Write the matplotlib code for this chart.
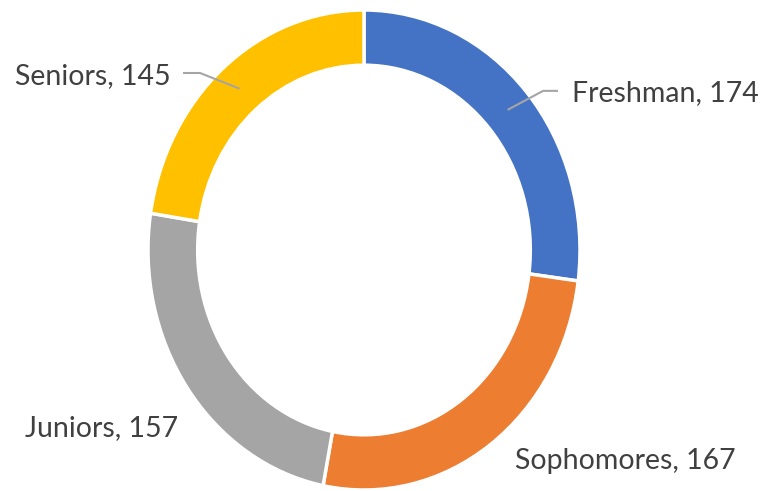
import numpy as np
import matplotlib
matplotlib.use("Agg")
import matplotlib.pyplot as plt

categories = ["Freshman", "Sophomores", "Juniors", "Seniors"]
values = [174, 167, 157, 145]
colors = ["#4472C4", "#ED7D31", "#A5A5A5", "#FFC000"]

W, H = 765, 491
fig = plt.figure(figsize=(W / 100, H / 100), dpi=100)
cx, cy, rx, ry = 364, 250, 216, 240
ax = fig.add_axes([(cx - rx) / W, (H - cy - ry) / H, 2 * rx / W, 2 * ry / H])

inner = 0.77
wedges, _ = ax.pie(values, colors=colors, startangle=90, counterclock=False,
                   radius=1.0,
                   wedgeprops=dict(width=1 - inner, edgecolor="white", linewidth=2.5))
ax.set_aspect("auto")
ax.set_xlim(-1, 1)
ax.set_ylim(-1, 1)
ax.axis("off")

font = dict(family=["Lato", "DejaVu Sans"], fontsize=20.5, color="#404040")

label_pos = {
    "Freshman": (0.963, 0.655),
    "Sophomores": (0.699, -0.879),
    "Juniors": (-1.569, -0.742),
    "Seniors": (-1.616, 0.725),
}
leaders = {
    "Freshman": [(0.829, 0.663), (0.898, 0.663)],
    "Seniors": [(-0.759, 0.7375), (-0.838, 0.7375)],
}

rmid = (1 + inner) / 2
for w, cat, val in zip(wedges, categories, values):
    ang = np.deg2rad((w.theta1 + w.theta2) / 2)
    ax0, ay0 = rmid * np.cos(ang), rmid * np.sin(ang)
    tx, ty = label_pos[cat]
    ax.text(tx, ty, f"{cat}, {val}", ha="left", va="center", **font)
    if cat in leaders:
        pts = [(ax0, ay0)] + leaders[cat]
        xs, ys = zip(*pts)
        ax.plot(xs, ys, color="#A5A5A5", lw=1.5, clip_on=False, solid_capstyle="butt")

fig.savefig("out.png", dpi=100)
